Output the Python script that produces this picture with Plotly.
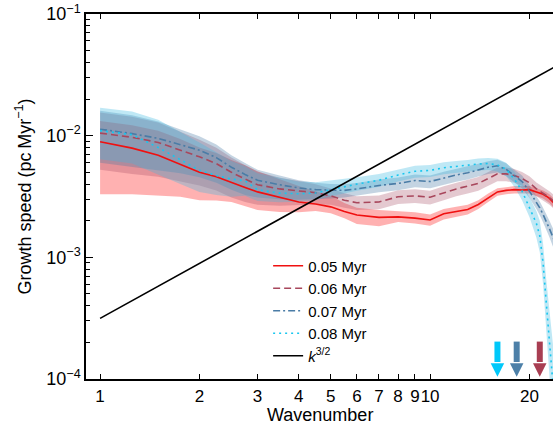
import plotly.graph_objects as go

# ---------------- data ----------------
K = [1, 1.25, 1.5, 1.75, 2, 2.25, 2.5, 2.75, 3, 3.5, 4, 4.5, 5, 5.5, 6, 7, 8, 9, 10,
     11, 12, 13, 14, 15, 16, 17, 18, 19, 20, 21, 21.5, 22, 22.5, 23, 24]

# 0.05 Myr (units 1e-3 pc/Myr)
m05 = [8.9, 7.9, 6.9, 5.8, 5.0, 4.6, 4.1, 3.75, 3.45, 3.12, 2.85, 2.74, 2.6, 2.38, 2.23, 2.13, 2.15, 2.1, 2.03,
       2.28, 2.38, 2.47, 2.72, 3.1, 3.45, 3.55, 3.6, 3.58, 3.6, 3.45, 3.38, 3.3, 3.18, 3.05, 2.7]
lo05 = [3.3, 3.3, 3.2, 3.15, 2.95, 2.93, 2.85, 2.65, 2.45, 2.36, 2.35, 2.4, 2.3, 2.1, 1.88, 1.8, 1.95, 1.9, 1.82,
        2.05, 2.15, 2.25, 2.5, 2.85, 3.2, 3.3, 3.35, 3.35, 3.35, 3.2, 3.12, 3.05, 2.92, 2.8, 2.45]
hi05 = [13.2, 12.2, 11.0, 9.4, 8.0, 7.2, 6.3, 5.7, 5.1, 4.4, 3.85, 3.5, 3.2, 2.8, 2.55, 2.45, 2.4, 2.35, 2.25,
        2.5, 2.6, 2.7, 2.95, 3.35, 3.7, 3.8, 3.85, 3.85, 3.85, 3.7, 3.62, 3.55, 3.42, 3.3, 2.95]

# 0.06 Myr
m06 = [10.5, 9.7, 8.8, 7.6, 6.7, 5.9, 5.0, 4.4, 3.95, 3.65, 3.54, 3.4, 3.2, 2.95, 2.81, 2.85, 3.15, 3.2, 3.12,
       3.4, 3.65, 3.85, 4.05, 4.45, 4.85, 4.85, 4.7, 4.45, 4.1, 3.65, 3.5, 3.35, 3.22, 3.1, 2.8]
lo06 = [5.25, 4.85, 4.6, 4.2, 3.9, 3.55, 3.1, 2.85, 2.7, 2.65, 2.7, 2.72, 2.7, 2.55, 2.45, 2.48, 2.75, 2.8, 2.72,
        2.95, 3.18, 3.35, 3.52, 3.87, 4.22, 4.22, 4.1, 3.87, 3.57, 3.18, 3.05, 2.92, 2.8, 2.7, 2.44]
hi06 = [15.5, 14.3, 12.8, 10.8, 9.25, 7.95, 6.6, 5.7, 5.05, 4.5, 4.25, 3.98, 3.68, 3.36, 3.18, 3.22, 3.56, 3.62, 3.53,
        3.84, 4.12, 4.35, 4.58, 5.03, 5.48, 5.48, 5.31, 5.03, 4.63, 4.12, 3.96, 3.79, 3.64, 3.5, 3.16]

# 0.07 Myr
m07 = [11.3, 10.4, 9.5, 8.4, 7.6, 6.6, 5.5, 4.8, 4.3, 3.95, 3.72, 3.6, 3.55, 3.55, 3.65, 3.9, 4.05, 4.28, 4.2,
       4.5, 4.75, 4.95, 5.25, 5.5, 5.65, 5.3, 4.7, 4.2, 3.5, 2.85, 2.55, 2.25, 1.98, 1.72, 1.3]
lo07 = [6.0, 5.5, 5.2, 4.9, 4.55, 4.1, 3.6, 3.25, 3.1, 3.0, 2.98, 3.02, 3.05, 3.1, 3.2, 3.43, 3.56, 3.77, 3.7,
        3.96, 4.18, 4.36, 4.62, 4.84, 4.97, 4.66, 4.14, 3.7, 3.08, 2.5, 2.22, 1.94, 1.7, 1.46, 1.08]
hi07 = [16.0, 14.7, 13.1, 11.3, 9.9, 8.45, 6.9, 5.95, 5.25, 4.7, 4.3, 4.1, 4.0, 3.98, 4.08, 4.37, 4.54, 4.79, 4.7,
        5.04, 5.32, 5.54, 5.88, 6.16, 6.33, 5.94, 5.26, 4.7, 3.92, 3.2, 2.88, 2.56, 2.28, 2.0, 1.55]

# 0.08 Myr
m08 = [11.0, 10.2, 8.0, 6.4, 5.2, 4.7, 4.4, 4.25, 3.6, 3.37, 3.33, 3.38, 3.6, 3.8, 4.0, 4.3, 4.75, 5.1, 5.18,
       5.45, 5.6, 5.7, 5.85, 5.9, 5.75, 5.3, 4.4, 3.5, 2.6, 1.9, 1.5, 0.9, 0.42, 0.2, 0.05]
lo08 = [6.4, 5.9, 4.8, 4.0, 3.45, 3.25, 3.15, 3.2, 2.9, 2.83, 2.86, 2.94, 3.17, 3.35, 3.52, 3.8, 4.2, 4.5, 4.58,
        4.82, 4.95, 5.05, 5.18, 5.22, 5.08, 4.65, 3.8, 2.95, 2.15, 1.45, 1.1, 0.6, 0.26, 0.11, 0.02]
hi08 = [17.0, 15.8, 13.5, 10.8, 8.8, 7.3, 6.2, 5.6, 4.9, 4.5, 4.2, 4.15, 4.3, 4.4, 4.55, 4.85, 5.3, 5.65, 5.75,
        6.05, 6.2, 6.3, 6.5, 6.55, 6.45, 6.0, 5.05, 4.1, 3.1, 2.4, 2.0, 1.3, 0.65, 0.36, 0.12]

labels = ["0.05 Myr", "0.06 Myr", "0.07 Myr", "0.08 Myr"]

# k^{3/2} reference line
k_ref = [1, 25]
ref_norm = 3.15e-4

# arrows marking wavenumbers
arrow_k = [16.0, 18.3, 21.5]
arrow_top = 2.03e-4
arrow_base = 1.38e-4
arrow_tip = 1.045e-4

# tick labels
ytick_vals = [1e-4, 1e-3, 1e-2, 1e-1]
ytick_text = ["10<sup>\u22124</sup>", "10<sup>\u22123</sup>", "10<sup>\u22122</sup>", "10<sup>\u22121</sup>"]
xtick_vals = [1, 2, 3, 4, 5, 6, 7, 8, 9, 10, 20]
xtick_text = ["1", "2", "3", "4", "5", "6", "7", "8", "9", "10", "20"]

# ---------------- styles ----------------
line_colors = ["#f01010", "#a8475c", "#4a7ca6", "#17c6ef"]
band_colors = ["rgba(255,70,70,0.42)", "rgba(165,75,100,0.30)", "rgba(70,120,165,0.32)", "rgba(60,185,225,0.33)"]
dashes = ["solid", "7px,4px", "7px,3px,2px,3px", "2px,4px"]
arrow_colors = ["#00c8fa", "#4d80a8", "#a83e52"]

FONT = "Liberation Sans, Arial, Helvetica, sans-serif"

fig = go.Figure()

means = [m05, m06, m07, m08]
los = [lo05, lo06, lo07, lo08]
his = [hi05, hi06, hi07, hi08]
scale = 1e-3

for i in range(4):
    xs = K + K[::-1]
    ys = [v * scale for v in his[i]] + [v * scale for v in los[i][::-1]]
    fig.add_trace(go.Scatter(x=xs, y=ys, fill="toself", fillcolor=band_colors[i],
                             line=dict(width=0), mode="lines", hoverinfo="skip",
                             showlegend=False))

for i in range(4):
    fig.add_trace(go.Scatter(x=K, y=[v * scale for v in means[i]], mode="lines",
                             name=labels[i],
                             line=dict(color=line_colors[i], width=1.6, dash=dashes[i])))

fig.add_trace(go.Scatter(x=k_ref, y=[ref_norm * k ** 1.5 for k in k_ref], mode="lines",
                         name="<i>k</i><sup>3/2</sup>", line=dict(color="black", width=1.6)))

# arrows
for k, c in zip(arrow_k, arrow_colors):
    fig.add_trace(go.Scatter(x=[k, k], y=[arrow_top, arrow_base], mode="lines",
                             line=dict(color=c, width=6), showlegend=False, hoverinfo="skip"))
    fig.add_trace(go.Scatter(x=[k], y=[arrow_tip], mode="markers",
                             marker=dict(symbol="arrow-down", size=13.5, color=c, line=dict(width=0)),
                             showlegend=False, hoverinfo="skip"))

minor_y = [m * 10 ** e for e in (-4, -3, -2) for m in range(2, 10)]

fig.update_layout(
    width=553, height=423,
    margin=dict(l=86, r=0, t=14, b=44),
    paper_bgcolor="white", plot_bgcolor="white",
    font=dict(family=FONT, size=17, color="black"),
    showlegend=True,
    legend=dict(x=0.39, y=0.355, xanchor="left", yanchor="top",
                bgcolor="rgba(0,0,0,0)", font=dict(size=15), tracegroupgap=0,
                itemwidth=30),
)

# x-axis title as a paper annotation (placed below the tick labels)
fig.add_annotation(text="Wavenumber", xref="paper", yref="paper", x=0.5, y=-0.098,
                   xanchor="center", yanchor="middle", showarrow=False,
                   font=dict(size=18, family=FONT, color="black"))

fig.update_xaxes(type="log", range=[-0.0427, 1.3725], automargin=False,
                 tickvals=xtick_vals, ticktext=xtick_text, tickangle=0,
                 ticks="inside", ticklen=5, tickwidth=1, tickcolor="black",
                 ticklabelstandoff=1,
                 showline=True, linecolor="black", linewidth=1.5, mirror="ticks",
                 showgrid=False, zeroline=False,
                 tickfont=dict(size=17))

fig.update_yaxes(type="log", range=[-4, -1], automargin=False,
                 tickvals=ytick_vals, ticktext=ytick_text,
                 ticks="inside", ticklen=7, tickwidth=1, tickcolor="black",
                 showline=True, linecolor="black", linewidth=1.5, mirror=False,
                 showgrid=False, zeroline=False,
                 minor=dict(tickvals=minor_y, ticks="inside", ticklen=4, tickwidth=1,
                            tickcolor="black", showgrid=False),
                 title=dict(text="Growth speed (pc\u2009Myr<sup>\u22121</sup>)", font=dict(size=18), standoff=10),
                 tickfont=dict(size=18))

fig.write_html("out.html")
